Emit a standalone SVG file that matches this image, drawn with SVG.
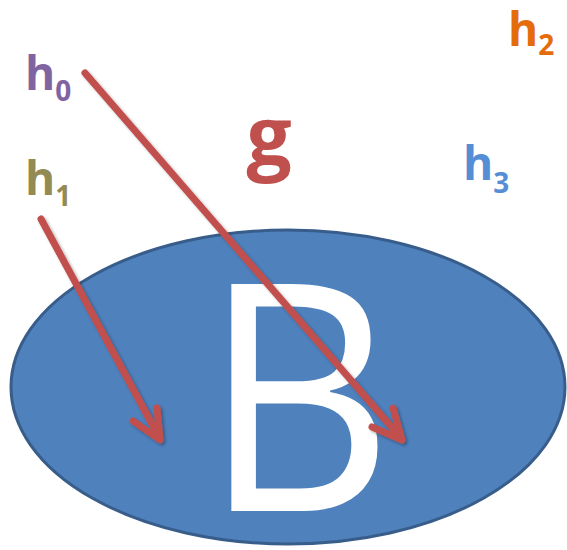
<svg xmlns="http://www.w3.org/2000/svg" width="567" height="550" viewBox="0 0 567 550">
<defs>
<style>
.lbl{font-family:"Open Sans","Liberation Sans",sans-serif;font-weight:bold;}
.arr{fill:none;stroke:#C0504D;stroke-width:7;stroke-linecap:round;stroke-linejoin:round;}
</style>
<filter id="sh" x="-10%" y="-10%" width="120%" height="120%">
<feDropShadow dx="2" dy="2" stdDeviation="1.5" flood-color="#000" flood-opacity="0.3"/>
</filter>
</defs>
<rect width="567" height="550" fill="#fff"/>
<g id="B">
<ellipse cx="288" cy="387" rx="277" ry="157" fill="#4F81BD" stroke="#385D8A" stroke-width="3"/>
<text transform="translate(298 0) scale(0.93 1)" x="0" y="511" text-anchor="middle" font-family="'Open Sans','Liberation Sans',sans-serif" font-size="318" fill="#fff">B</text>
</g>
<g id="g"><text class="lbl" x="269" y="165" text-anchor="middle" font-size="80" fill="#C0504D">g</text></g>
<g id="h0"><text class="lbl" x="25" y="90" font-size="46" fill="#8064A2">h<tspan font-size="28" dy="11">0</tspan></text></g>
<g id="h1"><text class="lbl" x="25" y="195" font-size="46" fill="#948A54">h<tspan font-size="28" dy="11">1</tspan></text></g>
<g id="h2"><text class="lbl" x="508" y="46" font-size="46" fill="#E46C0A">h<tspan font-size="28" dy="9">2</tspan></text></g>
<g id="h3"><text class="lbl" x="463" y="180" font-size="46" fill="#558ED5">h<tspan font-size="28" dy="13">3</tspan></text></g>
<g id="connectors" filter="url(#sh)">
<path class="arr" d="M85 73 L401 438"/>
<path class="arr" d="M372 427 L402 440 L393 408"/>
<path class="arr" d="M41 219 L159 437"/>
<path class="arr" d="M133 421 L160 440 L157 408"/>
</g>
</svg>
